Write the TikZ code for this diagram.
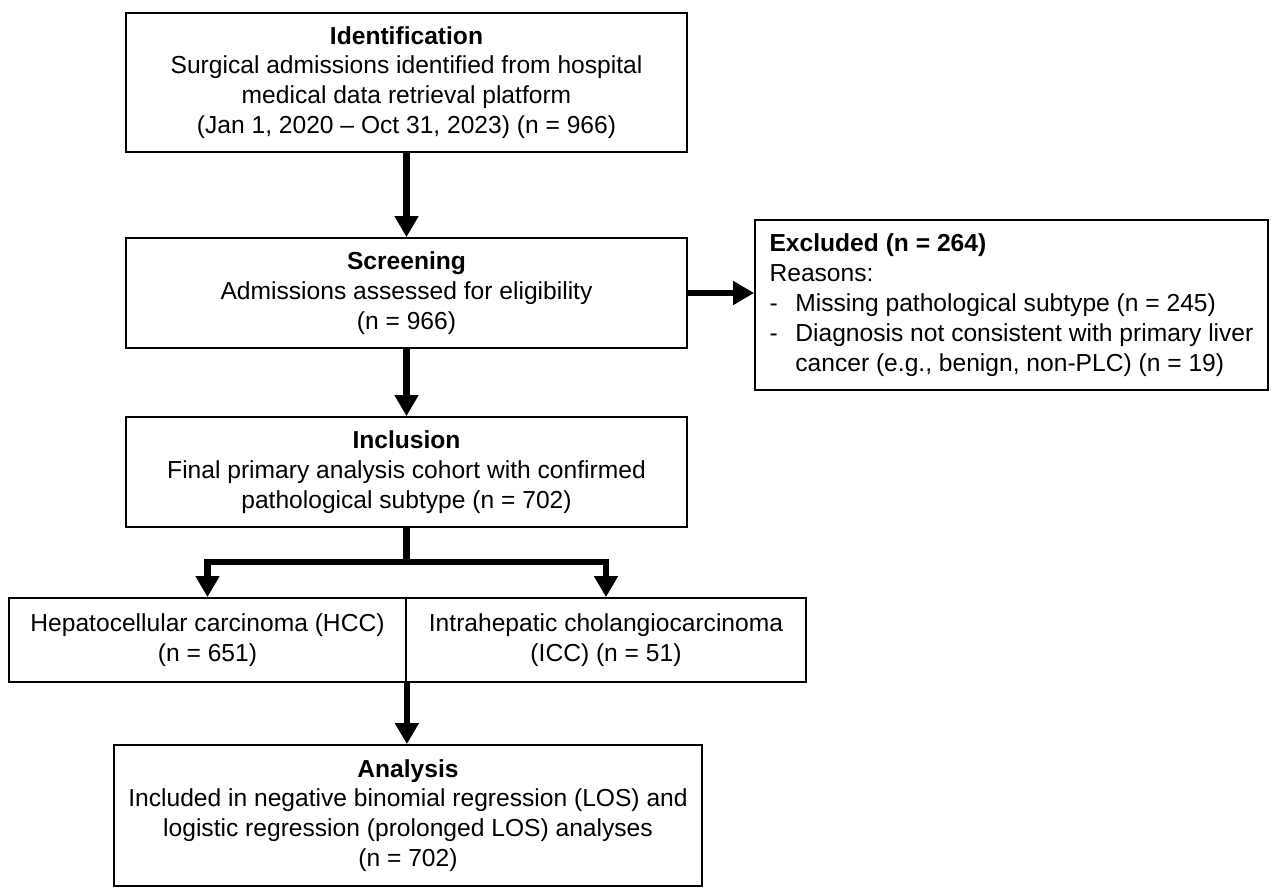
\documentclass[tikz,border=0pt]{standalone}
\usepackage{fontspec}
\setmainfont{Liberation Sans}
\usetikzlibrary{arrows.meta}

\begin{document}
\begin{tikzpicture}[x=0.2mm,y=-0.2mm]
		\newcommand*{\boxLine}{1pt}
		\newcommand*{\flowLine}{3.5pt}
		\tikzset{
			box/.style={draw,line width=\boxLine,inner sep=0pt,align=center,
				font=\fontsize{14}{17}\selectfont},
			flow/.style={-{Triangle[width=13pt,length=12pt]},line width=\flowLine},
		}

		\useasboundingbox (0,0) rectangle (1280,890);

		\coordinate(Ident) at	(406.5,82.5);
		\coordinate(Screen) at	(406.5,293);
		\coordinate(Excl) at	(1011.5,305);
		\coordinate(Incl) at	(406.5,472);
		\coordinate(Split) at	(406.5,562);
		\coordinate(Hcc) at	(207.5,640);
		\coordinate(Icc) at	(606,640);
		\coordinate(Anal) at	(408,815.5);

		\node[box,minimum width=112.2mm,minimum height=27.8mm] (ident) at (Ident)
			{\textbf{Identification}\\Surgical admissions identified from hospital\\medical data retrieval platform\\(Jan 1, 2020 -- Oct 31, 2023) (n = 966)};
		\node[box,minimum width=112.2mm,minimum height=22mm] (screen) at (Screen)
			{\textbf{Screening}\\Admissions assessed for eligibility\\(n = 966)};
		\node[box,align=left,minimum width=102.6mm,minimum height=34mm] (excl) at (Excl)
			{\textbf{Excluded (n = 264)}\\Reasons:\\\makebox[1.05em][l]{-}Missing pathological subtype (n = 245)\\\makebox[1.05em][l]{-}Diagnosis not consistent with primary liver\\\hspace*{1.05em}cancer (e.g., benign, non-PLC) (n = 19)};
		\node[box,minimum width=112.2mm,minimum height=22mm] (incl) at (Incl)
			{\textbf{Inclusion}\\Final primary analysis cohort with confirmed\\pathological subtype (n = 702)};
		\node[box,minimum width=79.4mm,minimum height=16.8mm] (hcc) at (Hcc)
			{Hepatocellular carcinoma (HCC)\\(n = 651)};
		\node[box,minimum width=80mm,minimum height=16.8mm] (icc) at (Icc)
			{Intrahepatic cholangiocarcinoma\\(ICC) (n = 51)};
		\node[box,minimum width=117.6mm,minimum height=28.2mm] (anal) at (Anal)
			{\textbf{Analysis}\\Included in negative binomial regression (LOS) and\\logistic regression (prolonged LOS) analyses\\(n = 702)};

		\draw[flow] (ident) -- (screen);
		\draw[flow] (screen.east) -- (screen.east -| excl.west);
		\draw[flow] (screen) -- (incl);

		\draw[line width=\flowLine] (incl.south) -- (Split);
		\draw[flow] (Split) -| (hcc.north);
		\draw[flow] (Split) -| (icc.north);

		\draw[flow] (hcc.south east) -- (hcc.south east |- anal.north);
\end{tikzpicture}
\end{document}
